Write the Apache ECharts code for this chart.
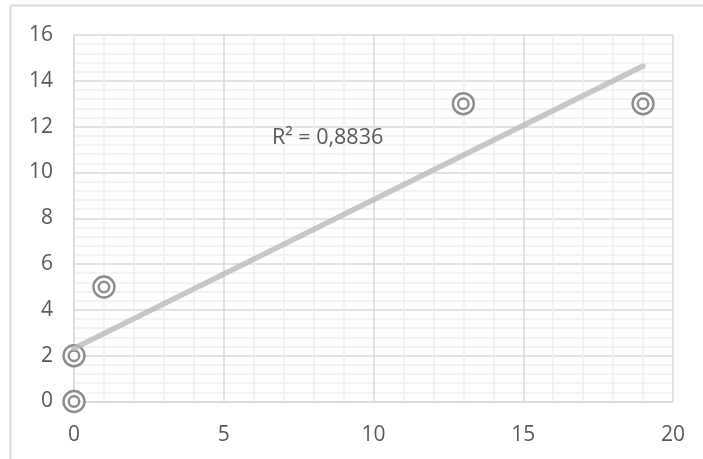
<!DOCTYPE html>
<html>
<head>
<meta charset="utf-8">
<script src="https://cdn.jsdelivr.net/npm/echarts@6/dist/echarts.min.js"></script>
<style>
  html, body { margin: 0; padding: 0; background: #ffffff; }
  #chart { width: 703px; height: 459px; }
</style>
</head>
<body>
<div id="chart"></div>
<script>
// Observed pairs
const xValues = [0, 0, 1, 13, 19];
const yValues = [0, 2, 5, 13, 13];

// Axis ranges and tick steps
const xMin = 0, xMax = 20, xStep = 5;
const yMin = 0, yMax = 16, yStep = 2;

const points = xValues.map((x, i) => [x, yValues[i]]);

// Least-squares linear trend and its coefficient of determination
function linearFit(xs, ys) {
  const n = xs.length;
  const mx = xs.reduce((a, b) => a + b, 0) / n;
  const my = ys.reduce((a, b) => a + b, 0) / n;
  let sxx = 0, sxy = 0, syy = 0;
  for (let i = 0; i < n; i++) {
    sxx += (xs[i] - mx) * (xs[i] - mx);
    sxy += (xs[i] - mx) * (ys[i] - my);
    syy += (ys[i] - my) * (ys[i] - my);
  }
  const slope = sxy / sxx;
  const intercept = my - slope * mx;
  return { slope, intercept, r2: (sxy * sxy) / (sxx * syy) };
}
const fit = linearFit(xValues, yValues);
const xLo = Math.min(...xValues), xHi = Math.max(...xValues);
const trendPoints = [
  [xLo, fit.intercept + fit.slope * xLo],
  [xHi, fit.intercept + fit.slope * xHi]
];
const r2Text = 'R² = ' + fit.r2.toFixed(4).replace('.', ',');

const textColor = '#595959';
const fontFamily = '"Open Sans", "Liberation Sans", sans-serif';
const majorGrid = '#d9d9d9';
const minorGrid = '#f0f0f0';
const markerColor = '#6f6f6f';

const chart = echarts.init(document.getElementById('chart'), null, { renderer: 'canvas' });

chart.setOption({
  animation: false,
  backgroundColor: '#ffffff',
  textStyle: { fontFamily: fontFamily },
  grid: { left: 74, right: 30, top: 35, bottom: 57.5, containLabel: false },
  graphic: [
    // chart frame (left and top edges)
    { type: 'line', shape: { x1: 10.5, y1: 5.5, x2: 10.5, y2: 459 }, style: { stroke: '#d9d9d9', lineWidth: 2 } },
    { type: 'line', shape: { x1: 10.5, y1: 5.5, x2: 703, y2: 5.5 }, style: { stroke: '#d9d9d9', lineWidth: 2 } },
    {
      type: 'text', left: 272, top: 127, z: 10,
      style: { text: r2Text, fill: textColor, font: '21.5px ' + fontFamily }
    }
  ],
  xAxis: {
    type: 'value', min: xMin, max: xMax, interval: xStep,
    axisLine: { show: true, onZero: false, lineStyle: { color: majorGrid, width: 1.5 } },
    axisTick: { show: false },
    axisLabel: { color: textColor, fontSize: 21, margin: 23, fontFamily: fontFamily },
    splitLine: { show: true, lineStyle: { color: majorGrid, width: 1.5 } },
    minorTick: { show: false, splitNumber: 5 },
    minorSplitLine: { show: true, lineStyle: { color: minorGrid, width: 1.5 } }
  },
  yAxis: {
    type: 'value', min: yMin, max: yMax, interval: yStep,
    axisLine: { show: true, onZero: false, lineStyle: { color: majorGrid, width: 1.5 } },
    axisTick: { show: false },
    axisLabel: { color: textColor, fontSize: 21, margin: 21, fontFamily: fontFamily },
    splitLine: { show: true, lineStyle: { color: majorGrid, width: 1.5 } },
    minorTick: { show: false, splitNumber: 5 },
    minorSplitLine: { show: true, lineStyle: { color: minorGrid, width: 1.5 } }
  },
  series: [
    {
      name: 'outer', type: 'scatter', data: points, symbol: 'circle', symbolSize: 21, z: 2,
      itemStyle: { color: '#ffffff', borderColor: markerColor, borderWidth: 2.4 }
    },
    {
      name: 'inner', type: 'scatter', data: points, symbol: 'circle', symbolSize: 10.5, z: 3,
      itemStyle: { color: '#ffffff', borderColor: markerColor, borderWidth: 2.4 }
    },
    {
      name: 'trend', type: 'line', data: trendPoints, symbol: 'none', z: 4,
      lineStyle: { color: 'rgba(185,185,185,0.8)', width: 5.5, cap: 'round' }
    }
  ]
});
</script>
</body>
</html>
